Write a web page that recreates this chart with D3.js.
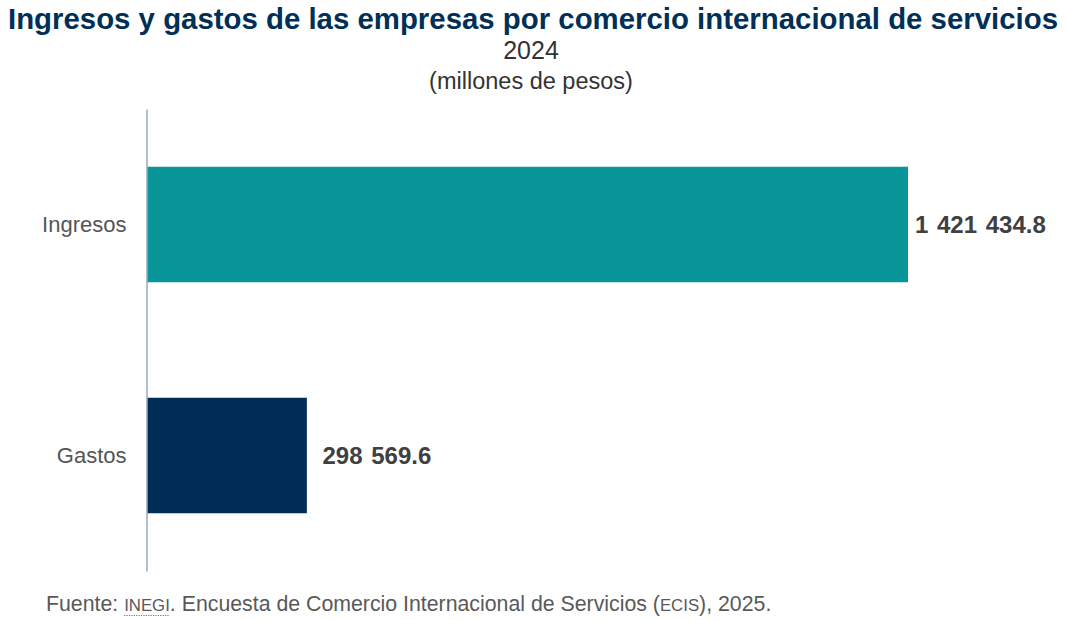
<!DOCTYPE html>
<html><head><meta charset="utf-8">
<script src="https://cdn.jsdelivr.net/npm/d3@7"></script>
<style>body{margin:0;background:#fff}svg{display:block}</style>
</head><body>
<svg id="c" width="1068" height="620"></svg>
<script>
const categories = ["Ingresos", "Gastos"];
const values = [1421434.8, 298569.6];
const valueLabels = ["1 421 434.8", "\u00a0298 569.6"];
const colors = ["#089698", "#002D55"];

const svg = d3.select("#c");
const W = 1068;
const x = d3.scaleLinear().domain([0, 1421434.8]).range([147, 908]);
const y = d3.scaleBand().domain(categories).range([109, 571]).paddingInner(0.5).paddingOuter(0.25);

// Titles
svg.append("text").attr("x", 533).attr("y", 29).attr("text-anchor","middle")
  .attr("font-family","'Liberation Sans Narrow','Arial Narrow',sans-serif").attr("font-weight","bold")
  .attr("font-size", 29).attr("fill","#003057")
  .attr("textLength", 1050).attr("lengthAdjust","spacingAndGlyphs")
  .text("Ingresos y gastos de las empresas por comercio internacional de servicios");

svg.append("text").attr("x", 531).attr("y", 59).attr("text-anchor","middle")
  .attr("font-family","'Liberation Sans',Arial,sans-serif").attr("font-size", 25).attr("fill","#333")
  .text("2024");
svg.append("text").attr("x", 531).attr("y", 89).attr("text-anchor","middle")
  .attr("font-family","'Liberation Sans',Arial,sans-serif").attr("font-size", 23.5).attr("fill","#333")
  .text("(millones de pesos)");

// Bars
svg.selectAll("rect.bar").data(categories).enter().append("rect")
  .attr("class","bar")
  .attr("x", x(0)).attr("y", d => y(d))
  .attr("width", (d,i) => x(values[i]) - x(0))
  .attr("height", y.bandwidth())
  .attr("fill", (d,i) => colors[i]);

// Value labels
svg.selectAll("text.val").data(categories).enter().append("text")
  .attr("class","val")
  .attr("x", (d,i) => x(values[i]) + 7)
  .attr("y", d => y(d) + y.bandwidth()/2)
  .attr("dy","0.36em")
  .attr("font-family","'Liberation Sans',Arial,sans-serif").attr("font-weight","bold")
  .attr("font-size", 24).attr("fill","#404040")
  .attr("style","word-spacing:2px")
  .text((d,i) => valueLabels[i]);

// Axis
const ax = svg.append("g").attr("transform", `translate(${x(0)-0.5},0)`)
  .call(d3.axisLeft(y).tickSize(0).tickPadding(20));
ax.select(".domain").attr("stroke","#9AAABB").attr("stroke-width",1.5);
ax.selectAll(".tick text").attr("font-family","'Liberation Sans',Arial,sans-serif")
  .attr("font-size", 22).attr("fill","#555");

// Footer
const ft = svg.append("text").attr("x", 46).attr("y", 611)
  .attr("font-family","'Liberation Sans',Arial,sans-serif").attr("font-size", 21.3).attr("fill","#595959");
ft.append("tspan").text("Fuente: ");
const inegi = ft.append("tspan").attr("font-size", 16.8).text("INEGI");
ft.append("tspan").attr("font-size", 21.3).text(". Encuesta de Comercio Internacional de Servicios (");
ft.append("tspan").attr("font-size", 16.8).text("ECIS");
ft.append("tspan").attr("font-size", 21.3).text("), 2025.");
// spellcheck-style dotted underline under INEGI
const ftn = ft.node();
const s = ftn.getSubStringLength(0, 8);
const w = ftn.getSubStringLength(8, 5);
svg.append("line").attr("x1", 46 + s).attr("x2", 46 + s + w).attr("y1", 615.5).attr("y2", 615.5)
  .attr("stroke","#E04848").attr("stroke-width",1.2).attr("stroke-dasharray","1.2,1.2");
</script>
</body></html>
